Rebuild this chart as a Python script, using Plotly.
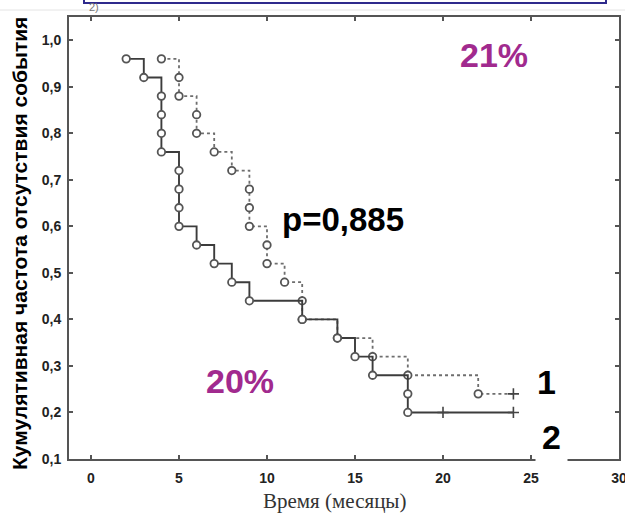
import plotly.graph_objects as go

# Group 1 (dotted curve): event times and survival after each event
g1_time = [4, 5, 5, 6, 6, 7, 8, 9, 9, 9, 10, 10, 11, 12, 12, 14, 16, 18, 22]
g1_surv = [0.96, 0.92, 0.88, 0.84, 0.80, 0.76, 0.72, 0.68, 0.64, 0.60,
           0.56, 0.52, 0.48, 0.44, 0.40, 0.36, 0.32, 0.28, 0.24]
g1_cens_time = [24]
g1_cens_surv = [0.24]

# Group 2 (solid curve)
g2_time = [2, 3, 4, 4, 4, 4, 5, 5, 5, 5, 6, 7, 8, 9, 12, 14, 15, 16, 18, 18]
g2_surv = [0.96, 0.92, 0.88, 0.84, 0.80, 0.76, 0.72, 0.68, 0.64, 0.60,
           0.56, 0.52, 0.48, 0.44, 0.40, 0.36, 0.32, 0.28, 0.24, 0.20]
g2_cens_time = [20, 24]
g2_cens_surv = [0.20, 0.20]

x_ticks = [0, 5, 10, 15, 20, 25, 30]
y_ticks = [0.1, 0.2, 0.3, 0.4, 0.5, 0.6, 0.7, 0.8, 0.9, 1.0]

W, H = 625, 516
ML, MR, MT, MB = 69, 6, 17, 57
PW, PH = W - ML - MR, H - MT - MB


def px(xp):
    return (xp - ML) / PW


def py(yp):
    return (MT + PH - yp) / PH


fig = go.Figure()


def add_group(t, s, ct, cs, color, dash, width):
    fig.add_trace(go.Scatter(
        x=t + ct[-1:], y=s + cs[-1:], mode="lines", line_shape="hv",
        line=dict(color=color, width=width, dash=dash), hoverinfo="skip"))
    fig.add_trace(go.Scatter(
        x=t, y=s, mode="markers",
        marker=dict(symbol="circle", size=7.5, color="white",
                    line=dict(color="#555555", width=1.8)), hoverinfo="skip"))
    fig.add_trace(go.Scatter(
        x=ct, y=cs, mode="markers",
        marker=dict(symbol="cross-thin", size=8,
                    line=dict(color="#444444", width=1.6)), hoverinfo="skip"))


add_group(g1_time, g1_surv, g1_cens_time, g1_cens_surv, "#6e6e6e", "dot", 1.8)
add_group(g2_time, g2_surv, g2_cens_time, g2_cens_surv, "#3c3c3c", "solid", 1.9)

tickfont = dict(family="Liberation Sans, Arial, sans-serif", size=14,
                color="#222222", weight="bold")
axis_common = dict(showgrid=False, zeroline=False, showline=True, mirror="ticks",
                   linecolor="#555555", linewidth=2, ticks="inside", ticklen=4,
                   tickcolor="#555555", tickwidth=1.5, tickfont=tickfont,
                   automargin=False, ticklabeloverflow="allow")

fig.update_xaxes(range=[-1.25, 30], tickvals=x_ticks, ticklabelstandoff=5, **axis_common)
fig.update_yaxes(range=[0.1, 1.05], tickvals=y_ticks, tickformat=".1f",
                 ticklabelstandoff=3, **axis_common)

purple = "#A12A8E"
bold = "Liberation Sans, Arial, sans-serif"
ann = [
    dict(text="21%", x=px(494), y=py(55), font=dict(family=bold, size=34, color=purple, weight="bold")),
    dict(text="20%", x=px(240), y=py(381), font=dict(family=bold, size=34, color=purple, weight="bold")),
    dict(text="p=0,885", x=px(343), y=py(219), font=dict(family=bold, size=33, color="black", weight="bold")),
    dict(text="1", x=px(546), y=py(382), font=dict(family=bold, size=34, color="black", weight="bold")),
    dict(text="2", x=px(551), y=py(437), font=dict(family=bold, size=34, color="black", weight="bold"),
         bgcolor="white", borderpad=6),
    dict(text="Время (месяцы)", x=px(334), y=py(501),
         font=dict(family="Liberation Serif, Times New Roman, serif", size=21, color="#333333")),
    dict(text="Кумулятивная частота отсутствия события", x=px(20), y=py(244), textangle=-90,
         font=dict(family=bold, size=21, color="black", weight="bold")),
    dict(text="2)", x=px(94), y=py(7), font=dict(family=bold, size=11, color="#777777")),
]
for a in ann:
    a.update(xref="paper", yref="paper", showarrow=False, xanchor="center", yanchor="middle")

shapes = [
    dict(type="rect", xref="paper", yref="paper", x0=px(84), x1=px(606), y0=py(3), y1=py(-20),
         line=dict(color="#2E2A8C", width=2), fillcolor="rgba(0,0,0,0)"),
    dict(type="line", xref="paper", yref="paper", x0=px(0), x1=px(625), y0=py(10), y1=py(10),
         line=dict(color="#e4e4e4", width=1)),
]

fig.update_layout(
    width=W, height=H, margin=dict(l=ML, r=MR, t=MT, b=MB),
    paper_bgcolor="white", plot_bgcolor="white", showlegend=False,
    separators=", ", annotations=ann, shapes=shapes,
)

fig.write_html("out.html")
